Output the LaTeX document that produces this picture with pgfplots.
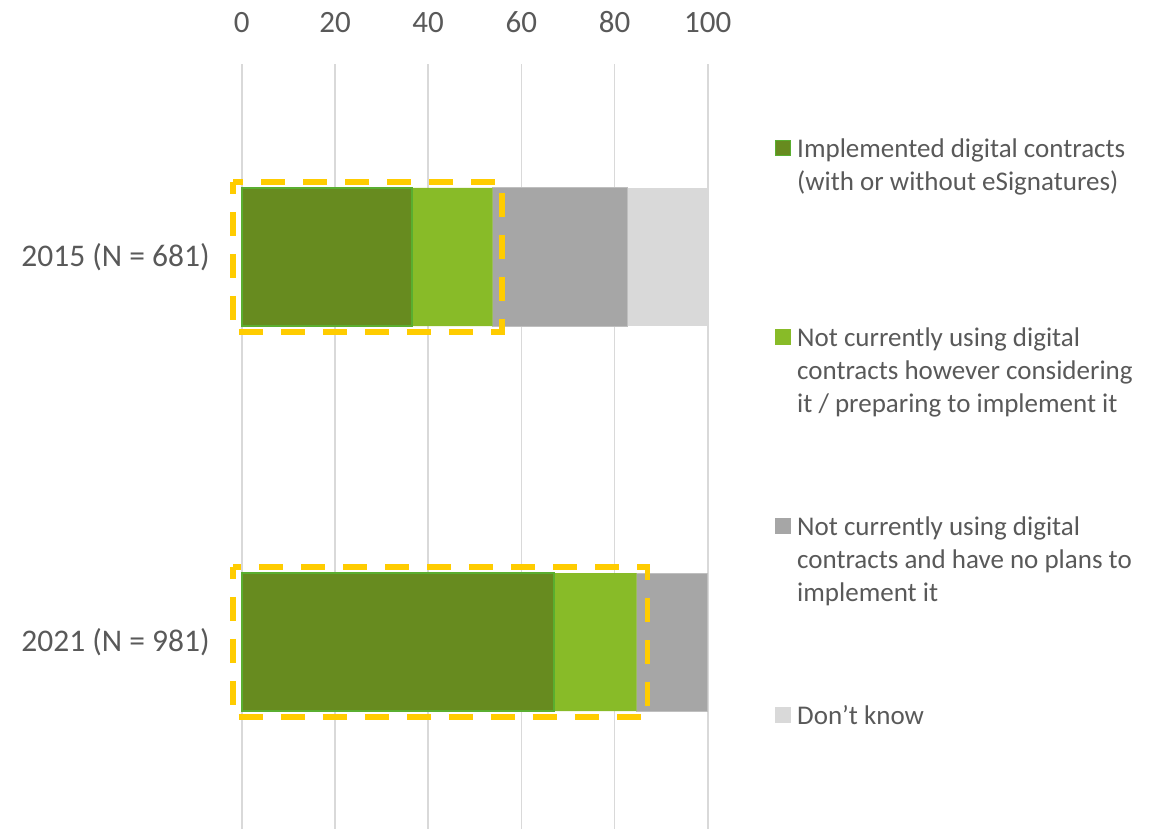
\documentclass[border=0pt]{standalone}
\usepackage{pgfplots}
\pgfplotsset{compat=1.18}
\usepackage{fontspec}
\setmainfont{Carlito}
\definecolor{dgreen}{HTML}{678B1F}
\definecolor{dgreenb}{HTML}{5AAE30}
\definecolor{lgreen}{HTML}{88BB28}
\definecolor{mgray}{HTML}{A6A6A6}
\definecolor{mgrayb}{HTML}{BFBFBF}
\definecolor{lgray}{HTML}{D9D9D9}
\definecolor{txt}{HTML}{595959}
\definecolor{gold}{HTML}{FFCC00}
\newcommand\LE[1]{\parbox[t]{360pt}{\raggedright\strut #1}}
\tikzset{legtxt/.style={anchor=base west, inner sep=0pt, text=txt, font=\fontsize{27}{33}\selectfont}}
\begin{document}
\begin{tikzpicture}
\useasboundingbox (0,0) rectangle (1157pt,829pt);
\begin{axis}[
  at={(241.8pt,-5.5pt)}, anchor=south west,
  scale only axis, width=466pt, height=770pt,
  xbar stacked, bar width=138pt,
  xmin=0, xmax=100, ymin=-0.5, ymax=1.5, y dir=reverse,
  ytick={0,1}, yticklabels={2015 (N = 681), 2021 (N = 981)},
  xtick={0,20,...,100}, xticklabel pos=upper,
  axis line style={draw=none}, major tick length=0pt, tick style={draw=none},
  xmajorgrids, grid style={lgray, line width=1.5pt},
  tick label style={font=\fontsize{31}{37}\selectfont, text=txt},
  /pgf/number format/assume math mode=true,
  xticklabel style={anchor=base, yshift=32pt},
  yticklabel style={anchor=east, inner sep=0pt, xshift=-32pt, font=\fontsize{31.5}{37}\selectfont},
  clip=false,
]
\addplot[fill=dgreen, draw=dgreenb, line width=1.5pt] coordinates {(36.5,0) (67.0,1)};
\addplot[fill=lgreen, draw=none] coordinates {(17.3,0) (17.7,1)};
\addplot[fill=mgray, draw=mgrayb, line width=1pt] coordinates {(29.0,0) (15.3,1)};
\addplot[fill=lgray, draw=none] coordinates {(17.2,0) (0,1)};
\coordinate (r1a) at (axis cs:-1.9,-0.195);
\coordinate (r1b) at (axis cs:55.8,0.195);
\coordinate (r2a) at (axis cs:-1.9,0.805);
\coordinate (r2b) at (axis cs:87.1,1.195);
\end{axis}
\draw[gold, line width=5.5pt, dash pattern=on 24pt off 18pt, dash phase=12pt] (r1a) rectangle (r1b);
\draw[gold, line width=5.5pt, dash pattern=on 24pt off 18pt, dash phase=12pt] (r2a) rectangle (r2b);
% legend
\draw[fill=dgreen, draw=dgreenb, line width=1pt] (775.5pt,673.5pt) rectangle (790.5pt,688.5pt);
\node[legtxt] at (797pt,671.3pt) {\LE{Implemented digital contracts\newline(with or without eSignatures)}};
\fill[lgreen] (775pt,484pt) rectangle (791pt,500pt);
\node[legtxt] at (797pt,482.3pt) {\LE{Not currently using digital\newline contracts however considering\newline it / preparing to implement it}};
\fill[mgray] (775pt,295pt) rectangle (791pt,311pt);
\node[legtxt] at (797pt,293.3pt) {\LE{Not currently using digital\newline contracts and have no plans to\newline implement it}};
\fill[lgray] (775pt,106pt) rectangle (791pt,122pt);
\node[legtxt] at (797pt,104.3pt) {\LE{Don’t know}};
\end{tikzpicture}
\end{document}
